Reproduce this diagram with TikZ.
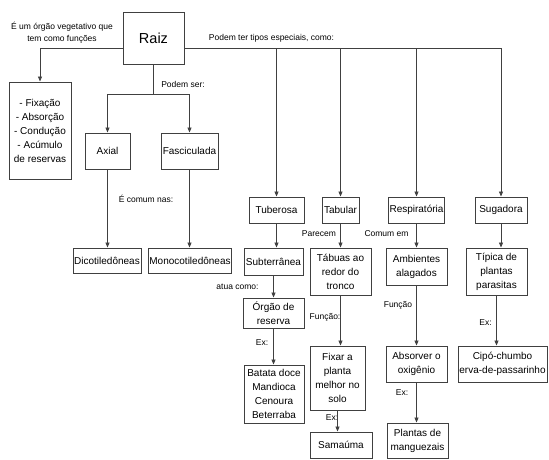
\documentclass[tikz,border=0pt]{standalone}
\usepackage{fontspec}
\setmainfont{Liberation Sans}
\usepackage{tikz}
\usetikzlibrary{arrows.meta}
\definecolor{borda}{gray}{0.25}

\begin{document}
\begin{tikzpicture}[x=1pt, y=-1pt,
caixa/.style={draw=borda, line width=0.9pt, align=center, inner sep=1pt, font=\fontsize{10}{14}\selectfont},
rotulo/.style={align=center, inner sep=0pt, font=\fontsize{8.5}{12}\selectfont},
seta/.style={draw=borda, line width=0.8pt, -{Triangle[length=5pt,width=4pt]}},
linha/.style={draw=borda, line width=0.8pt}]
\useasboundingbox (0,0) rectangle (549,459);
\node[caixa, minimum width=61pt, minimum height=52pt, font=\fontsize{14.5}{16}\selectfont] (raiz) at (153.5,38) {Raiz};
\foreach \nome/\x/\y/\w/\h/\txt in {
func/40/130.5/62/97/{- Fixação\\- Absorção\\- Condução\\- Acúmulo\\de reservas},
axial/107.5/151/45/36/Axial, fasc/189.5/151/57/36/Fasciculada,
dico/107/260.5/68/25/Dicotiledôneas, mono/190/260.5/80/25/Monocotiledôneas,
tub/276.5/210/55/26/Tuberosa, tab/340.5/210/37/26/Tabular,
resp/416.5/210/55/26/Respiratória, sug/501/210/52/26/Sugadora,
subt/273.5/261.5/59/27/Subterrânea, tabuas/340.5/271.5/61/47/{Tábuas ao\\redor do\\tronco},
amb/416.5/266.5/61/37/{Ambientes\\alagados}, tipica/496.5/271.5/61/47/{Típica de\\plantas\\parasitas},
orgao/273.5/313/61/30/{Órgão de\\reserva}, batata/274/394/60/58/{Batata doce\\Mandioca\\Cenoura\\Beterraba},
fixar/337.5/378/55/64/{Fixar a\\planta\\melhor no\\solo}, sama/341/445/62/26/Samaúma,
absor/416.5/364/61/36/{Absorver o\\oxigênio}, mang/417.5/440.5/61/35/{Plantas de\\manguezais},
cipo/502.5/364/89/36/{Cipó-chumbo\\erva-de-passarinho}}{
\node[caixa, minimum width=\w pt, minimum height=\h pt] (\nome) at (\x,\y) {\txt};
}
\foreach \nome/\x/\y/\txt in {
lfunc/62/33/{É um órgão vegetativo que\\tem como funções}, ltipos/271.5/38/{Podem ter tipos especiais, como:},
lser/183/84/{Podem ser:}, lcomum/146/199/{É comum nas:}, lpar/319/234/Parecem, lcom/386.5/234/{Comum em},
latua/237.5/287/{atua como:}, lex1/262/343/Ex:, lfun1/325/317/Função:, lex2/332/418/Ex:,
lfun2/398/305/Função, lex3/402/393/Ex:, lex4/485.5/323/Ex:}{
\node[rotulo] (\nome) at (\x,\y) {\txt};
}
\coordinate (rb) at (153.5,94);
\draw[seta] ([yshift=-10pt]raiz.west) -| (func.north);
\draw[seta] ([yshift=-10pt]raiz.east) -| (sug.north);
\foreach \t in {tub, tab, resp}{
\draw[seta] (\t.north |- 0,48) -- (\t.north);
}
\draw[linha] (raiz.south) -- (rb);
\draw[seta] (rb) -| (axial.north);
\draw[seta] (rb) -| (fasc.north);
\foreach \a/\b in {axial/dico, fasc/mono, tub/subt, tab/tabuas, resp/amb, sug/tipica, subt/orgao, orgao/batata, tabuas/fixar, fixar/sama, amb/absor, absor/mang, tipica/cipo}{
\draw[seta] (\a.south) -- (\a.south |- \b.north);
}
\end{tikzpicture}
\end{document}
